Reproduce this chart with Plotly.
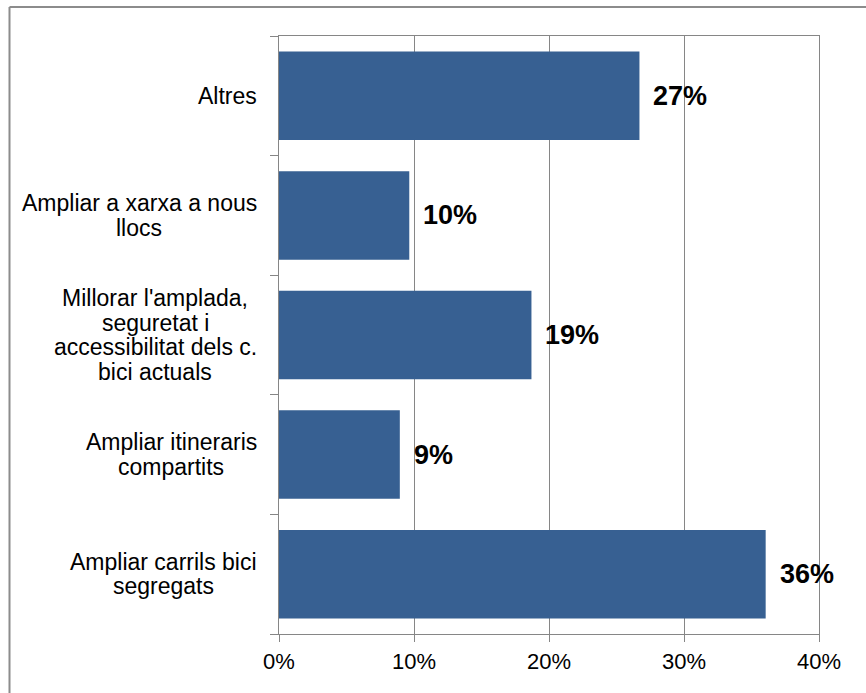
import plotly.graph_objects as go

# categories from bottom to top, as Plotly stacks them on the y axis
categories = [
    "Ampliar carrils bici\nsegregats",
    "Ampliar itineraris\ncompartits",
    "Millorar l'amplada,\nseguretat i\naccessibilitat dels c.\nbici actuals",
    "Ampliar a xarxa a nous\nllocs",
    "Altres",
]
values = [36.05, 8.95, 18.7, 9.65, 26.7]
value_labels = ["36%", "9%", "19%", "10%", "27%"]
x_ticks = [0, 10, 20, 30, 40]

BAR = "#376092"
GREY = "#868686"
FONT = "Liberation Sans, Arial, sans-serif"

# plot area in pixels
L, R, T, B = 279, 819, 36, 634
W, H = 866, 693

# Arial advance widths (per 1000 em) to centre multi-line labels
AW = {c: 556 for c in "abdeghnopqu0123456789"}
AW.update({"c": 500, "k": 500, "s": 500, "v": 500, "x": 500, "y": 500, "z": 500,
           "f": 278, "t": 278, "i": 222, "j": 222, "l": 222, "m": 833, "r": 333,
           "w": 722, " ": 278, ",": 278, ".": 278, "'": 191, "A": 667, "M": 833})


def text_w(s, size):
    return sum(AW.get(ch, 556) for ch in s) / 1000 * size


fig = go.Figure(go.Bar(
    x=[v / 100 for v in values],
    y=categories,
    orientation="h",
    marker=dict(color=BAR, line=dict(width=0)),
    width=0.74,
    hoverinfo="skip",
))

ann = []
lab_size = 23
line_h = 24.5
for cat in categories:
    lines = cat.split("\n")
    maxw = max(text_w(s, lab_size) for s in lines)
    cx = (257 - L) - maxw / 2
    n = len(lines)
    for i, s in enumerate(lines):
        ann.append(dict(
            x=0, xref="paper", y=cat, yref="y", text=s, showarrow=False,
            xanchor="center", yanchor="middle", xshift=cx,
            yshift=((n - 1) / 2 - i) * line_h,
            font=dict(family=FONT, size=lab_size, color="black"),
        ))

for cat, v, lab in zip(categories, values, value_labels):
    ann.append(dict(
        x=v / 100, y=cat, text="<b>" + lab + "</b>", showarrow=False,
        xanchor="left", yanchor="middle", xshift=12,
        font=dict(family=FONT, size=27, color="black"),
    ))

pw, ph = R - L, B - T
shapes = [
    # outer chart border (right and bottom run off the picture)
    dict(type="line", xref="paper", yref="paper",
         x0=(9.5 - L) / pw, x1=(W + 5 - L) / pw,
         y0=1 + (T - 7) / ph, y1=1 + (T - 7) / ph,
         line=dict(color="#8c8c8c", width=2)),
    dict(type="line", xref="paper", yref="paper",
         x0=(9.5 - L) / pw, x1=(9.5 - L) / pw,
         y0=1 + (T - 7) / ph, y1=-(H + 5 - B) / ph,
         line=dict(color="#8c8c8c", width=2)),
]

fig.update_layout(
    width=W, height=H,
    margin=dict(l=L, r=W - R, t=T, b=H - B),
    plot_bgcolor="white", paper_bgcolor="white",
    showlegend=False,
    annotations=ann,
    shapes=shapes,
    xaxis=dict(
        range=[0, 0.4],
        tickvals=[t / 100 for t in x_ticks],
        ticktext=[f"{t}%" for t in x_ticks],
        showgrid=True, gridcolor=GREY, gridwidth=1,
        showline=True, linecolor=GREY, linewidth=1.3, mirror=True,
        ticks="outside", ticklen=7, tickcolor=GREY, tickwidth=1.3,
        tickfont=dict(family=FONT, size=22, color="black"),
        zeroline=False, fixedrange=True,
    ),
    yaxis=dict(
        showticklabels=False,
        tickson="boundaries",
        ticks="outside", ticklen=8, tickcolor=GREY, tickwidth=1.3,
        showline=True, linecolor=GREY, linewidth=1.3, mirror=True,
        showgrid=False, fixedrange=True,
    ),
)

# the page's default body margin would shift the figure by 8px
fig.write_html("out.html", config={"displayModeBar": False},
               post_script="document.body.style.margin='0';")
